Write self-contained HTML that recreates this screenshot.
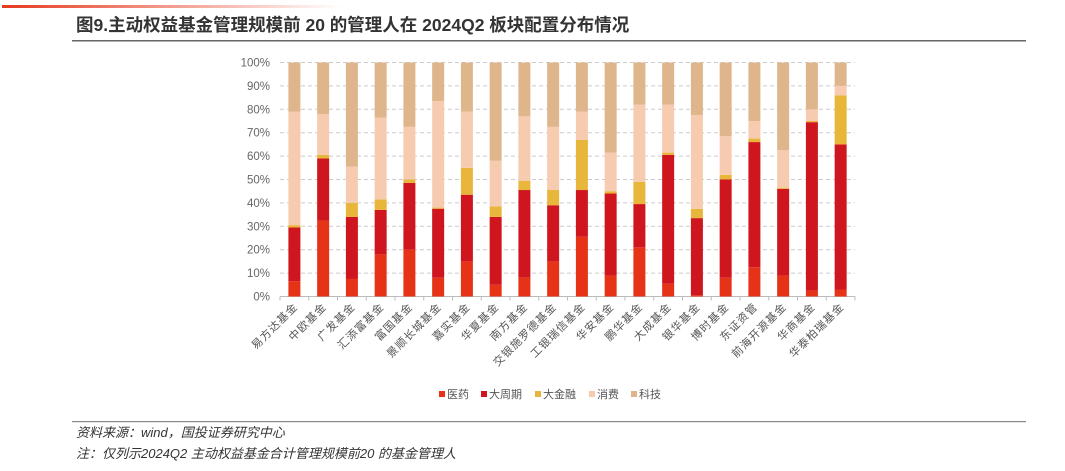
<!DOCTYPE html>
<html><head><meta charset="utf-8"><style>
body{margin:0;background:#fff;width:1065px;height:466px;overflow:hidden;font-family:"Liberation Sans","Noto Sans CJK SC",sans-serif}
</style></head><body>
<svg width="1065" height="466" xmlns="http://www.w3.org/2000/svg">
<defs><linearGradient id="g" x1="0" x2="1"><stop offset="0" stop-color="#e63a1f"/><stop offset="1" stop-color="#e63a1f" stop-opacity="0"/></linearGradient></defs>
<rect x="2" y="5" width="340" height="3" fill="url(#g)"/>
<text x="76" y="31" font-size="17.5" font-weight="bold" fill="#333" font-family="'Liberation Sans','Noto Sans CJK SC',sans-serif">图9.主动权益基金管理规模前 20 的管理人在 2024Q2 板块配置分布情况</text>
<rect x="72" y="40" width="954" height="1.5" fill="#666"/>
<g id="chart"></g>
<rect x="72" y="421" width="954" height="1.2" fill="#888"/>
<text x="76" y="437" font-size="13" font-style="italic" fill="#333">资料来源：wind，国投证券研究中心</text>
<text x="76" y="458" font-size="13" font-style="italic" fill="#333">注：仅列示2024Q2 主动权益基金合计管理规模前20 的基金管理人</text>
<g font-size="11" fill="#555">
<rect x="439" y="391" width="6" height="6" fill="#e63217"/><text x="447" y="398">医药</text>
<rect x="481" y="391" width="6" height="6" fill="#cf161e"/><text x="489" y="398">大周期</text>
<rect x="535" y="391" width="6" height="6" fill="#e8b63b"/><text x="543" y="398">大金融</text>
<rect x="589" y="391" width="6" height="6" fill="#f7cbb0"/><text x="597" y="398">消费</text>
<rect x="631" y="391" width="6" height="6" fill="#dfb68c"/><text x="639" y="398">科技</text>
</g>
</svg>
<script>
const names=["易方达基金","中欧基金","广发基金","汇添富基金","富国基金","景顺长城基金","嘉实基金","华夏基金","南方基金","交银施罗德基金","工银瑞信基金","华安基金","鹏华基金","大成基金","银华基金","博时基金","东证资管","前海开源基金","华商基金","华泰柏瑞基金"];
const d=[[6.5,29.5,30.5,79],[32.5,59,60.5,78],[7.5,34,40,55.5],[18,37,41.5,76.5],[20,48.5,50,72.5],[8,37.5,38,83.5],[15,43.5,55,79],[5,34,38.5,58],[8,45.5,49.5,77],[15,39,45.5,72.5],[25.5,45.5,67,79],[9,44,45,61.5],[21,39.5,49,82],[5.5,60.5,61.5,82],[0.5,33.5,37.5,77.5],[8,50,52,68.5],[12.5,66,67.5,75],[9,46,46.5,62.5],[2.5,74.5,75,80],[3,65,86,90]];
const cols=["#e63217","#cf161e","#e8b63b","#f7cbb0","#dfb68c"];
const y0=296.5,k=2.34;let s="";
for(let i=0;i<=10;i++){const y=y0-i*10*k;
 if(i>0)s+=`<line x1="280" x2="855" y1="${y}" y2="${y}" stroke="#ccc" stroke-dasharray="4,3" stroke-width="1"/>`;
 s+=`<text x="270" y="${y+4}" font-size="11.5" fill="#666" text-anchor="end">${i*10}%</text>`;}
s+=`<line x1="280" x2="855" y1="${y0}" y2="${y0}" stroke="#bbb"/>`;
for(let i=0;i<=20;i++){const x=280+i*28.75;s+=`<line x1="${x}" x2="${x}" y1="${y0}" y2="${y0+4}" stroke="#bbb"/>`;}
d.forEach((v,i)=>{const cx=294.4+i*28.75;const t=[0,...v,100];
 for(let j=0;j<5;j++){const a=y0-t[j]*k,b=y0-t[j+1]*k;if(a-b>0)s+=`<rect x="${cx-6}" y="${b}" width="12" height="${a-b}" fill="${cols[j]}"/>`;}
 s+=`<text transform="translate(${cx+4},${y0+11}) rotate(-45)" font-size="11" letter-spacing="1" fill="#555" text-anchor="end">${names[i]}</text>`;});
document.getElementById("chart").innerHTML=s;
</script>
</body></html>
